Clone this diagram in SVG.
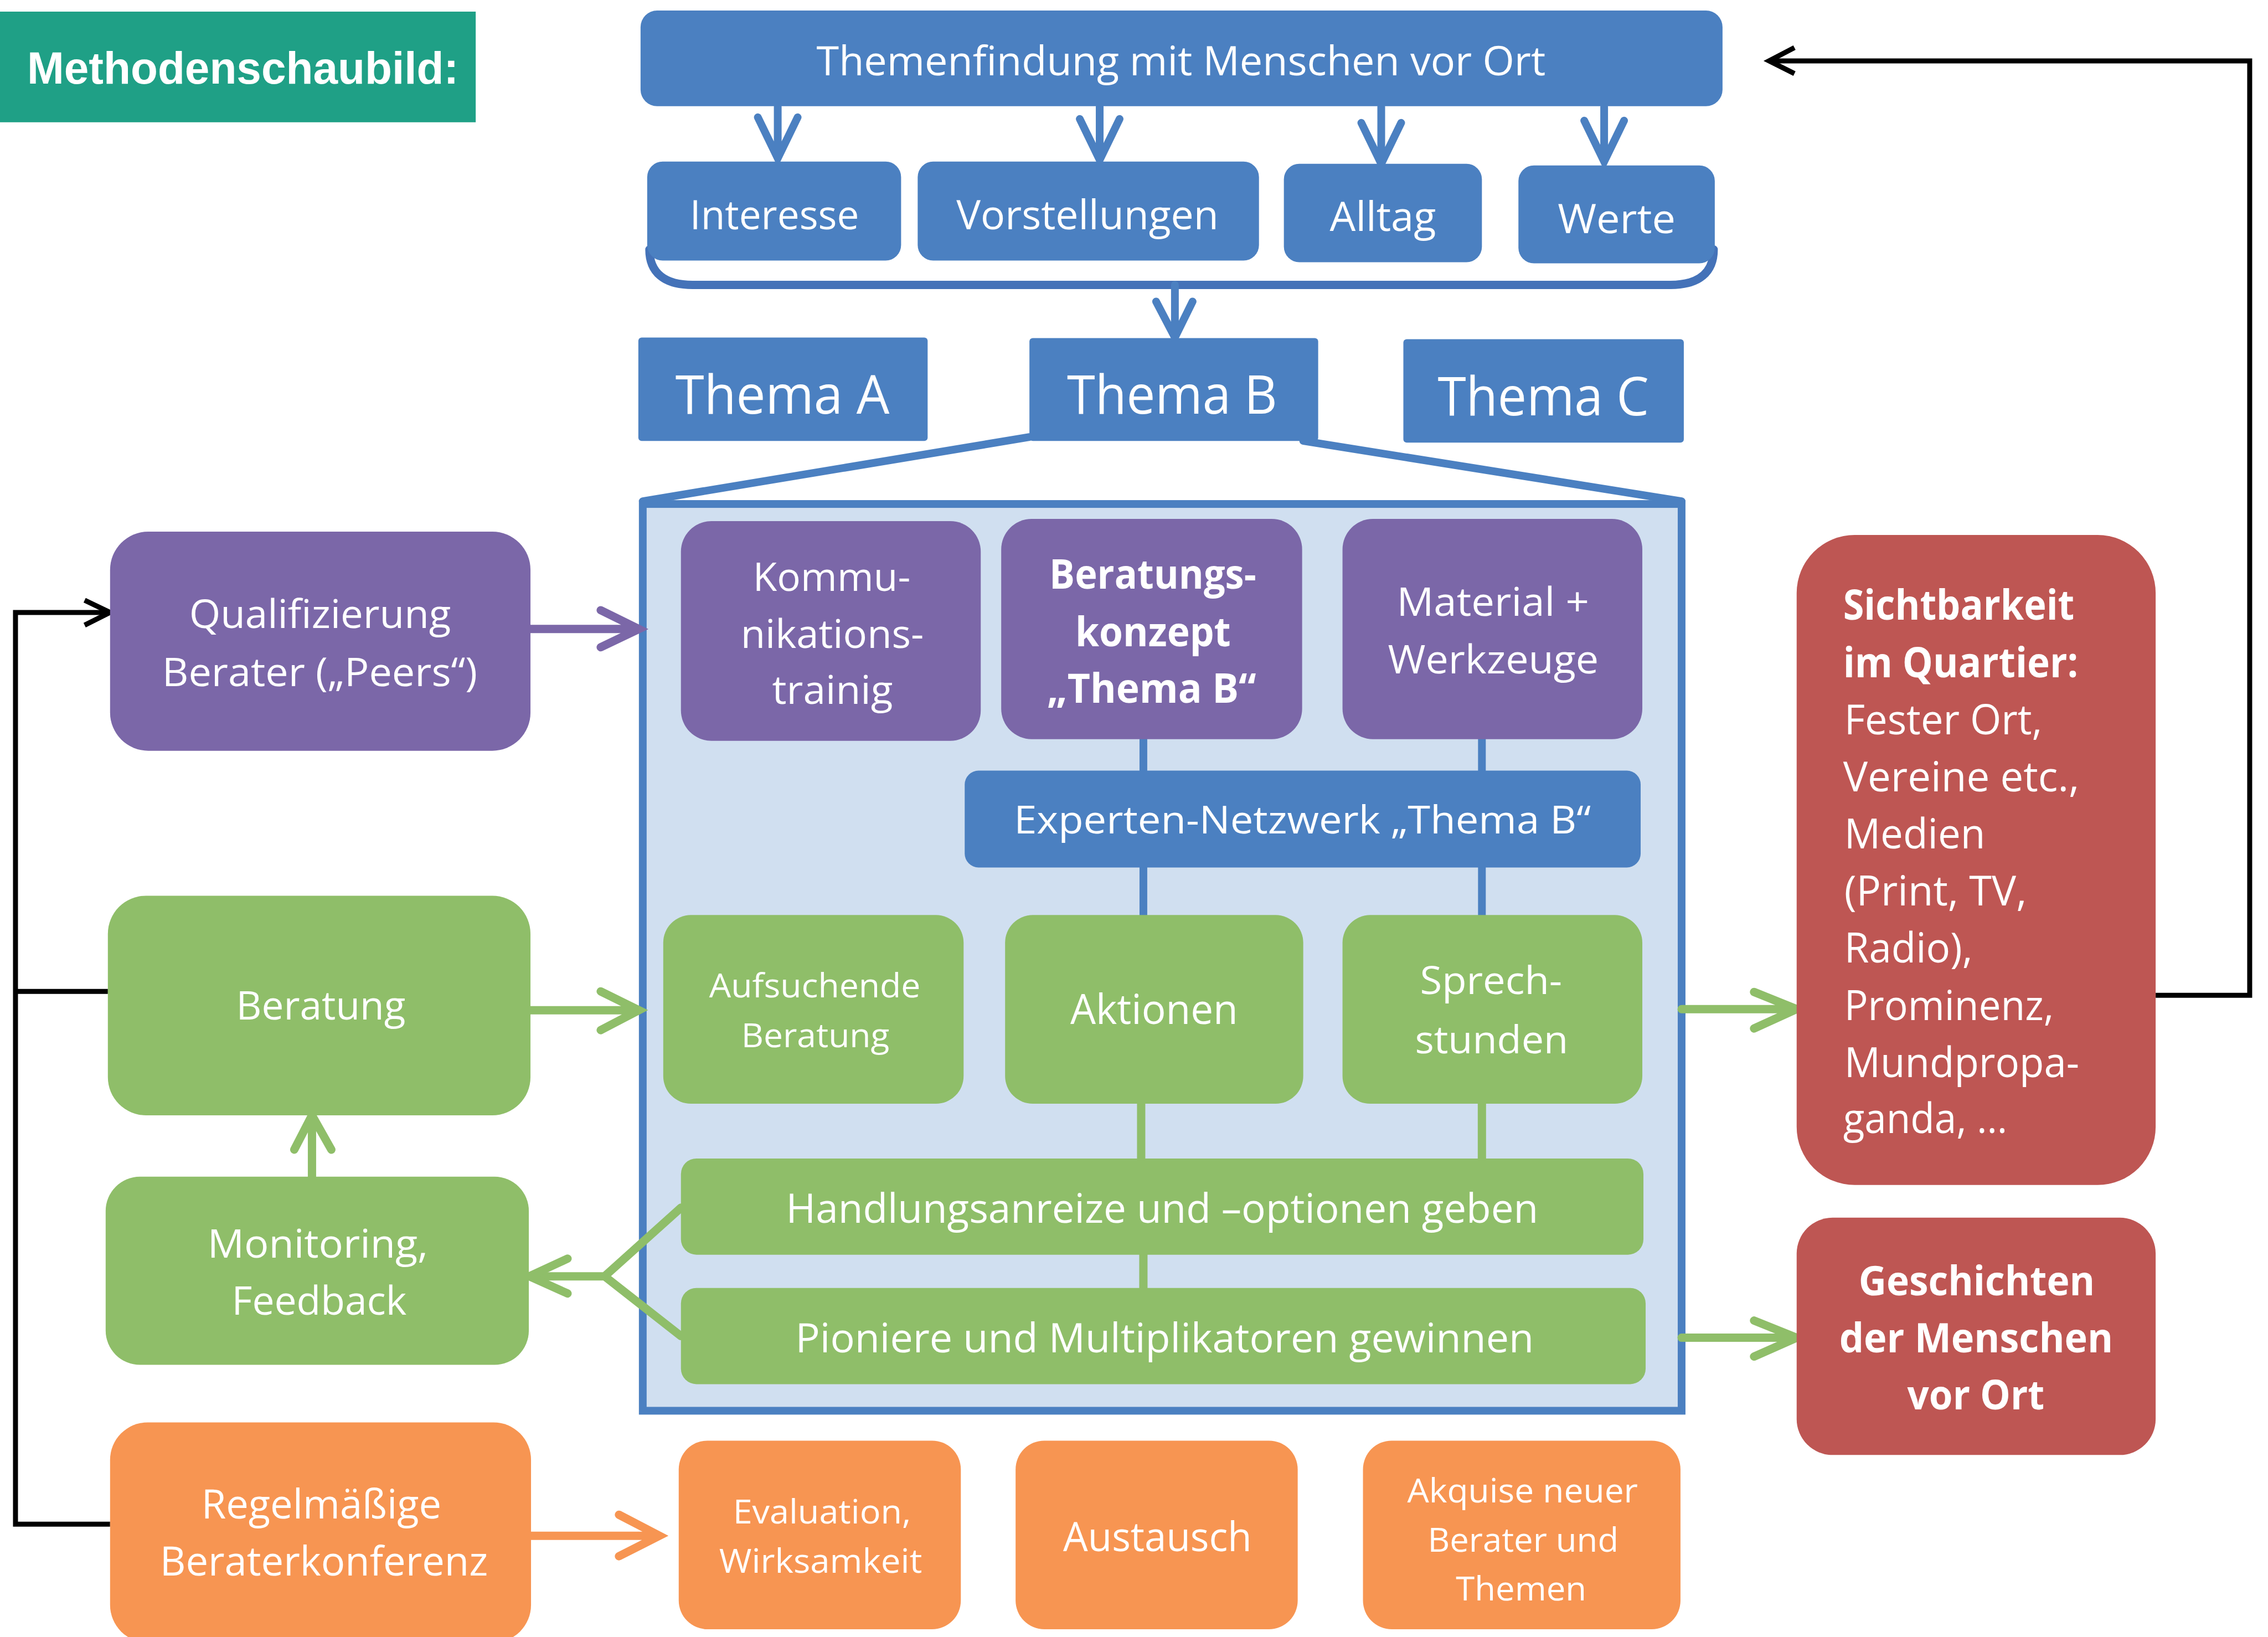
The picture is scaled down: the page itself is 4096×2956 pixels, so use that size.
<svg xmlns="http://www.w3.org/2000/svg" width="4096" height="2956" viewBox="0 0 4096 2956">
<style>
.t{font-family:"Open Sans","Noto Sans","Liberation Sans",sans-serif;fill:#fff}
.b{font-weight:bold}
.blue{fill:#4b80c1}
.purple{fill:#7b67a8}
.green{fill:#8fbe69}
.orange{fill:#f79552}
.red{fill:#be5653}
.ln{fill:none;stroke-linecap:round;stroke-linejoin:miter;stroke-miterlimit:10}
.lb{stroke:#4b80c1;stroke-width:14}
.lp{stroke:#7b67a8;stroke-width:15}
.lg{stroke:#8fbe69;stroke-width:15}
.lo{stroke:#f79552;stroke-width:15}
.lk{stroke:#000;stroke-width:9;stroke-linecap:butt}
</style>
<rect width="4096" height="2956" fill="#fff"/>
<g transform="scale(0.999)">
<g id="container">
<rect x="1162" y="911" width="1878" height="1639" fill="#d0dff0" stroke="#4b80c1" stroke-width="14"/>
</g>
<g id="connectors">
<path class="ln lb" stroke-width="13" d="M1861,790 L1162,906 M2356,797 L3040,906"/>
<path class="ln" stroke="#4472b8" stroke-width="15" stroke-linecap="butt" d="M1174,451 C1174,492 1200,515 1252,515 L3020,515 C3072,515 3098,492 3098,451"/>
<path class="ln lb" d="M1406,193 V280 M1370,212 L1406,286 L1442,212"/>
<path class="ln lb" d="M1988,193 V283 M1952,215 L1988,289 L2024,215"/>
<path class="ln lb" d="M2497,193 V290 M2461,222 L2497,296 L2533,222"/>
<path class="ln lb" d="M2900,193 V286 M2864,218 L2900,292 L2936,218"/>
<path class="ln lb" d="M2124,515 V604 M2090,545 L2124,610 L2156,545"/>
<path class="ln lb" stroke-width="12" stroke-linecap="butt" d="M2067,1330 V1400 M2679,1330 V1400 M2067,1560 V1660 M2679,1560 V1660"/>
<path class="ln lg" stroke-width="12" stroke-linecap="butt" d="M2063,1990 V2100 M2679,1990 V2100 M2067,2262 V2334"/>
<path class="ln lp" d="M959,1137 H1149 M1086,1103 L1155,1137 L1086,1170"/>
<path class="ln lg" d="M959,1826 H1149 M1086,1792 L1155,1826 L1086,1862"/>
<path class="ln lg" d="M564,2127 V2022 M532,2078 L564,2016 L599,2078"/>
<path class="ln lg" stroke-linecap="butt" d="M1231,2183 L1093,2307 L1231,2415 M1093,2307 H962"/>
<path class="ln lg" d="M1026,2275 L957,2307 L1026,2338"/>
<path class="ln lo" d="M960,2776 H1186 M1119,2738 L1192,2776 L1119,2813"/>
<path class="ln lg" d="M3040,1824 H3242 M3171,1793 L3248,1824 L3171,1859"/>
<path class="ln lg" d="M3040,2418 H3242 M3171,2387 L3248,2418 L3171,2452"/>
<path class="ln lk" d="M199,2755 H28 V1107 H193 M28,1792 H195"/>
<path class="ln lk" stroke-linecap="round" d="M153,1085 L199,1107 L153,1130"/>
<path class="ln lk" d="M3897,1799 H4067 V110 H3204"/>
<path class="ln lk" stroke-linecap="round" d="M3244,86 L3198,110 L3244,133"/>
</g>
<g id="title">
<rect x="0" y="21" width="860" height="200" fill="#1fa086"/>
<text x="49" y="151" font-family="Liberation Sans, Arial, sans-serif" font-weight="bold" font-size="82" fill="#fff" textLength="780" lengthAdjust="spacingAndGlyphs">Methodenschaubild:</text>
</g>
<g id="themenfindung">
<rect class="blue" x="1158" y="19" width="1956" height="173" rx="30"/>
<text class="t" x="1476" y="136" font-size="74" textLength="1318" lengthAdjust="spacingAndGlyphs">Themenfindung mit Menschen vor Ort</text>
</g>
<g id="interesse">
<rect class="blue" x="1170" y="292" width="459" height="179" rx="28"/>
<text class="t" x="1247" y="414" font-size="74" textLength="306" lengthAdjust="spacingAndGlyphs">Interesse</text>
</g>
<g id="vorstellungen">
<rect class="blue" x="1659" y="292" width="617" height="179" rx="28"/>
<text class="t" x="1729" y="414" font-size="74" textLength="474" lengthAdjust="spacingAndGlyphs">Vorstellungen</text>
</g>
<g id="alltag">
<rect class="blue" x="2321" y="296" width="358" height="178" rx="28"/>
<text class="t" x="2404" y="417" font-size="74" textLength="192" lengthAdjust="spacingAndGlyphs">Alltag</text>
</g>
<g id="werte">
<rect class="blue" x="2745" y="299" width="355" height="177" rx="28"/>
<text class="t" x="2816" y="421" font-size="74" textLength="213" lengthAdjust="spacingAndGlyphs">Werte</text>
</g>
<g id="themaA">
<rect class="blue" x="1154" y="610" width="523" height="187" rx="6"/>
<text class="t" x="1221" y="748" font-size="97" textLength="387" lengthAdjust="spacingAndGlyphs">Thema A</text>
</g>
<g id="themaB">
<rect class="blue" x="1861" y="611" width="522" height="186" rx="6"/>
<text class="t" x="1929" y="748" font-size="97" textLength="380" lengthAdjust="spacingAndGlyphs">Thema B</text>
</g>
<g id="themaC">
<rect class="blue" x="2537" y="613" width="507" height="187" rx="6"/>
<text class="t" x="2599" y="751" font-size="97" textLength="382" lengthAdjust="spacingAndGlyphs">Thema C</text>
</g>
<g id="kommunikation">
<rect class="purple" x="1231" y="942" width="542" height="397" rx="55"/>
<text class="t" font-size="71" lengthAdjust="spacingAndGlyphs"><tspan x="1361" y="1068" textLength="285">Kommu-</tspan></text>
<text class="t" font-size="71" x="1339" y="1171" textLength="331" lengthAdjust="spacingAndGlyphs">nikations-</text>
<text class="t" font-size="71" x="1396" y="1272" textLength="218" lengthAdjust="spacingAndGlyphs">trainig</text>
</g>
<g id="beratungskonzept">
<rect class="purple" x="1810" y="938" width="544" height="398" rx="55"/>
<text class="t b" font-size="73" x="1897" y="1064" textLength="374" lengthAdjust="spacingAndGlyphs">Beratungs-</text>
<text class="t b" font-size="73" x="1944" y="1168" textLength="281" lengthAdjust="spacingAndGlyphs">konzept</text>
<text class="t b" font-size="73" x="1893" y="1270" textLength="378" lengthAdjust="spacingAndGlyphs">„Thema B“</text>
</g>
<g id="material">
<rect class="purple" x="2427" y="938" width="542" height="398" rx="55"/>
<text class="t" font-size="71" x="2525" y="1113" textLength="348" lengthAdjust="spacingAndGlyphs">Material +</text>
<text class="t" font-size="71" x="2509" y="1217" textLength="381" lengthAdjust="spacingAndGlyphs">Werkzeuge</text>
</g>
<g id="experten">
<rect class="blue" x="1744" y="1393" width="1222" height="175" rx="25"/>
<text class="t" font-size="70" x="1833" y="1507" textLength="1043" lengthAdjust="spacingAndGlyphs">Experten-Netzwerk „Thema B“</text>
</g>
<g id="aufsuchende">
<rect class="green" x="1199" y="1654" width="543" height="341" rx="50"/>
<text class="t" font-size="60" x="1282" y="1803" textLength="382" lengthAdjust="spacingAndGlyphs">Aufsuchende</text>
<text class="t" font-size="60" x="1340" y="1893" textLength="268" lengthAdjust="spacingAndGlyphs">Beratung</text>
</g>
<g id="aktionen">
<rect class="green" x="1817" y="1654" width="539" height="341" rx="50"/>
<text class="t" font-size="75" x="1935" y="1851" textLength="303" lengthAdjust="spacingAndGlyphs">Aktionen</text>
</g>
<g id="sprechstunden">
<rect class="green" x="2427" y="1654" width="542" height="341" rx="50"/>
<text class="t" font-size="70" x="2567" y="1797" textLength="257" lengthAdjust="spacingAndGlyphs">Sprech-</text>
<text class="t" font-size="70" x="2558" y="1904" textLength="277" lengthAdjust="spacingAndGlyphs">stunden</text>
</g>
<g id="handlungsanreize">
<rect class="green" x="1231" y="2094" width="1740" height="174" rx="28"/>
<text class="t" font-size="73" x="1421" y="2210" textLength="1360" lengthAdjust="spacingAndGlyphs">Handlungsanreize und –optionen geben</text>
</g>
<g id="pioniere">
<rect class="green" x="1231" y="2328" width="1744" height="174" rx="28"/>
<text class="t" font-size="73" x="1438" y="2444" textLength="1335" lengthAdjust="spacingAndGlyphs">Pioniere und Multiplikatoren gewinnen</text>
</g>
<g id="qualifizierung">
<rect class="purple" x="199" y="961" width="760" height="396" rx="69"/>
<text class="t" font-size="71" x="342" y="1135" textLength="473" lengthAdjust="spacingAndGlyphs">Qualifizierung</text>
<text class="t" font-size="71" x="293" y="1240" textLength="570" lengthAdjust="spacingAndGlyphs">Berater („Peers“)</text>
</g>
<g id="beratung">
<rect class="green" x="195" y="1619" width="764" height="397" rx="69"/>
<text class="t" font-size="71" x="427" y="1843" textLength="306" lengthAdjust="spacingAndGlyphs">Beratung</text>
</g>
<g id="monitoring">
<rect class="green" x="191" y="2127" width="765" height="340" rx="62"/>
<text class="t" font-size="71" x="375" y="2273" textLength="399" lengthAdjust="spacingAndGlyphs">Monitoring,</text>
<text class="t" font-size="71" x="419" y="2376" textLength="316" lengthAdjust="spacingAndGlyphs">Feedback</text>
</g>
<g id="beraterkonferenz">
<rect class="orange" x="199" y="2571" width="761" height="398" rx="68"/>
<text class="t" font-size="73" x="364" y="2745" textLength="434" lengthAdjust="spacingAndGlyphs">Regelmäßige</text>
<text class="t" font-size="73" x="289" y="2848" textLength="593" lengthAdjust="spacingAndGlyphs">Beraterkonferenz</text>
</g>
<g id="evaluation">
<rect class="orange" x="1227" y="2604" width="510" height="341" rx="52"/>
<text class="t" font-size="61" x="1325" y="2754" textLength="322" lengthAdjust="spacingAndGlyphs">Evaluation,</text>
<text class="t" font-size="61" x="1300" y="2843" textLength="367" lengthAdjust="spacingAndGlyphs">Wirksamkeit</text>
</g>
<g id="austausch">
<rect class="orange" x="1836" y="2604" width="510" height="341" rx="52"/>
<text class="t" font-size="73" x="1922" y="2804" textLength="341" lengthAdjust="spacingAndGlyphs">Austausch</text>
</g>
<g id="akquise">
<rect class="orange" x="2464" y="2604" width="574" height="341" rx="52"/>
<text class="t" font-size="61" x="2544" y="2716" textLength="417" lengthAdjust="spacingAndGlyphs">Akquise neuer</text>
<text class="t" font-size="61" x="2581" y="2805" textLength="345" lengthAdjust="spacingAndGlyphs">Berater und</text>
<text class="t" font-size="61" x="2632" y="2893" textLength="236" lengthAdjust="spacingAndGlyphs">Themen</text>
</g>
<g id="sichtbarkeit">
<rect class="red" x="3248" y="967" width="649" height="1175" rx="105"/>
<text class="t b" font-size="76" x="3332" y="1120" textLength="418" lengthAdjust="spacingAndGlyphs">Sichtbarkeit</text>
<text class="t b" font-size="76" x="3332" y="1224" textLength="425" lengthAdjust="spacingAndGlyphs">im Quartier:</text>
<text class="t" font-size="76" x="3334" y="1327" textLength="358" lengthAdjust="spacingAndGlyphs">Fester Ort,</text>
<text class="t" font-size="76" x="3332" y="1430" textLength="427" lengthAdjust="spacingAndGlyphs">Vereine etc.,</text>
<text class="t" font-size="76" x="3334" y="1534" textLength="255" lengthAdjust="spacingAndGlyphs">Medien</text>
<text class="t" font-size="76" x="3334" y="1637" textLength="330" lengthAdjust="spacingAndGlyphs">(Print, TV,</text>
<text class="t" font-size="76" x="3334" y="1740" textLength="232" lengthAdjust="spacingAndGlyphs">Radio),</text>
<text class="t" font-size="76" x="3334" y="1844" textLength="379" lengthAdjust="spacingAndGlyphs">Prominenz,</text>
<text class="t" font-size="76" x="3334" y="1947" textLength="425" lengthAdjust="spacingAndGlyphs">Mundpropa-</text>
<text class="t" font-size="76" x="3332" y="2048" textLength="297" lengthAdjust="spacingAndGlyphs">ganda, …</text>
</g>
<g id="geschichten">
<rect class="red" x="3248" y="2201" width="649" height="429" rx="65"/>
<text class="t b" font-size="73" x="3360" y="2341" textLength="427" lengthAdjust="spacingAndGlyphs">Geschichten</text>
<text class="t b" font-size="73" x="3325" y="2444" textLength="495" lengthAdjust="spacingAndGlyphs">der Menschen</text>
<text class="t b" font-size="73" x="3448" y="2548" textLength="248" lengthAdjust="spacingAndGlyphs">vor Ort</text>
</g>
</g>
</svg>
